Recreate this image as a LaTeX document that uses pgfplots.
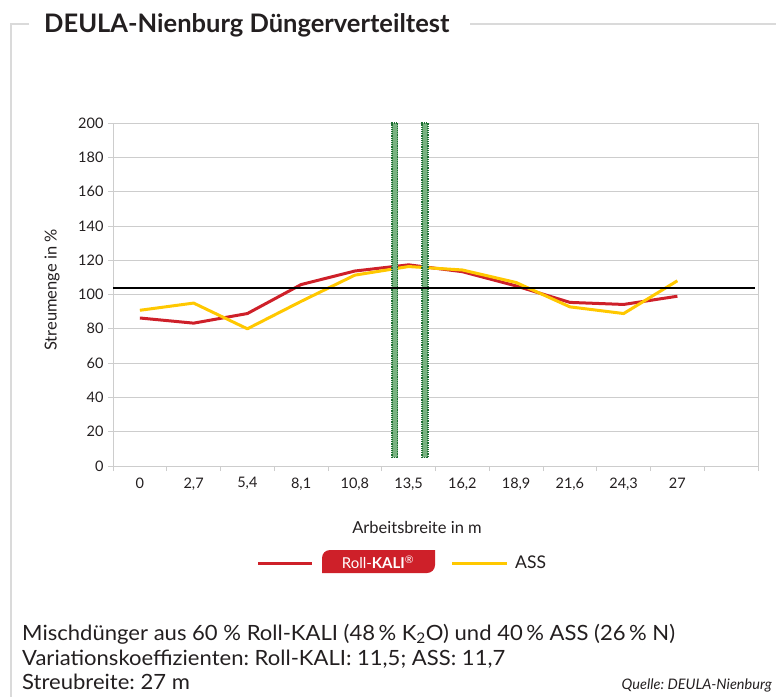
\documentclass[border=0pt]{standalone}
\usepackage{fontspec}
\setmainfont{Lato}
\newfontfamily\widefont{Lato}[FakeStretch=1.05]
\usepackage{pgfplots}
\pgfplotsset{compat=1.18}
\definecolor{kali}{RGB}{206,32,41}
\definecolor{ass}{RGB}{255,200,0}
\definecolor{txt}{RGB}{35,31,32}
\definecolor{framegray}{RGB}{218,218,218}
\definecolor{gridgray}{RGB}{205,205,205}
\definecolor{gfill}{RGB}{120,178,128}
\definecolor{gdraw}{RGB}{30,110,50}
\frenchspacing
\begin{document}
\begin{tikzpicture}[x=1pt,y=1pt]
\path[use as bounding box] (0,0) rectangle (776,-696);
\draw[line width=2.5pt, framegray] (29,-24) -- (11,-24) -- (11,-697);
\draw[line width=2.5pt, framegray] (470,-24) -- (777,-24);
\node[anchor=west, inner sep=0pt, text=txt, font=\fontsize{25.5}{25.5}\selectfont\bfseries] at (44,-25) {DEULA-Nienburg Düngerverteiltest};
\begin{axis}[
  at={(113pt,-466pt)}, anchor=south west,
  scale only axis, width=645pt, height=343pt,
  xmin=-0.5, xmax=11.5, ymin=0, ymax=200,
  xtick={0,...,10},
  xticklabels={0,{2,7},{5,4},{8,1},{10,8},{13,5},{16,2},{18,9},{21,6},{24,3},27},
  major x tick style={draw=none},
  minor xtick={-0.5,0.5,...,11.5},
  minor tick length=5pt,
  ytick={0,20,...,200},
  major tick length=5pt,
  tick align=outside,
  xtick pos=bottom, ytick pos=left,
  ymajorgrids, grid style={gridgray, line width=0.8pt},
  axis line style={gridgray, line width=0.8pt},
  tick style={gridgray, line width=0.8pt},
  /pgf/number format/assume math mode=true,
  ticklabel style={text=txt, font=\fontsize{14.5}{14.5}\selectfont},
  xticklabel style={yshift=-3pt},
  yticklabel style={xshift=-1pt},
  clip=false,
]
\addplot[kali, line width=3pt, line join=round] coordinates {
 (0,86.3) (1,83.3) (2,88.9) (3,105.8) (4,113.7) (5,117.3) (6,113.3) (7,105) (8,95.4) (9,94.2) (10,99)};
\addplot[ass, line width=3pt, line join=round] coordinates {
 (0,90.8) (1,95) (2,80) (3,96) (4,111.3) (5,116.3) (6,114.3) (7,107) (8,92.8) (9,88.9) (10,108)};
\addplot[fill=gfill, draw=gdraw, densely dotted, line width=1.2pt] coordinates {
 (4.69,5) (4.80,5) (4.80,200) (4.69,200) (4.69,5)};
\addplot[fill=gfill, draw=gdraw, densely dotted, line width=1.2pt] coordinates {
 (5.25,5) (5.36,5) (5.36,200) (5.25,200) (5.25,5)};
\addplot[black, line width=1.6pt] coordinates {(-0.5,103.8) (11.44,103.8)};
\end{axis}
\node[rotate=90, text=txt, font=\fontsize{16.5}{16.5}\selectfont] at (52,-290) {Streumenge in \%};
\node[text=txt, font=\fontsize{16.5}{16.5}\selectfont] at (417,-527) {Arbeitsbreite in m};
% legend
\draw[kali, line width=3pt] (258,-563) -- (312,-563);
\fill[kali] (322,-573) -- (322,-558) arc[start angle=180,end angle=90,radius=8] -- (435,-550) -- (435,-565) arc[start angle=0,end angle=-90,radius=8] -- cycle;
\node[text=white, font=\fontsize{15}{15}\selectfont] at (378,-562) {Roll-\textbf{KALI}\textsuperscript{®}};
\draw[ass, line width=3pt] (452,-563) -- (507,-563);
\node[anchor=west, inner sep=0pt, text=txt, font=\fontsize{17.5}{17.5}\selectfont] at (515,-562) {ASS};
% bottom text
\node[anchor=base west, inner sep=0pt, text=txt, font=\fontsize{21}{21}\widefont] at (22,-640) {Mischdünger aus 60 \% Roll-KALI (48\,\% K\textsubscript{2}O) und 40\,\% ASS (26\,\% N)};
\node[anchor=base west, inner sep=0pt, text=txt, font=\fontsize{21}{21}\widefont] at (22,-665) {Variationskoeffizienten: Roll-KALI: 11,5; ASS: 11,7};
\node[anchor=base west, inner sep=0pt, text=txt, font=\fontsize{21}{21}\widefont] at (22,-689) {Streubreite: 27 m};
\node[anchor=base east, inner sep=0pt, text=txt, font=\fontsize{14.5}{14.5}\selectfont\itshape] at (772,-689) {Quelle: DEULA-Nienburg};
\end{tikzpicture}
\end{document}
